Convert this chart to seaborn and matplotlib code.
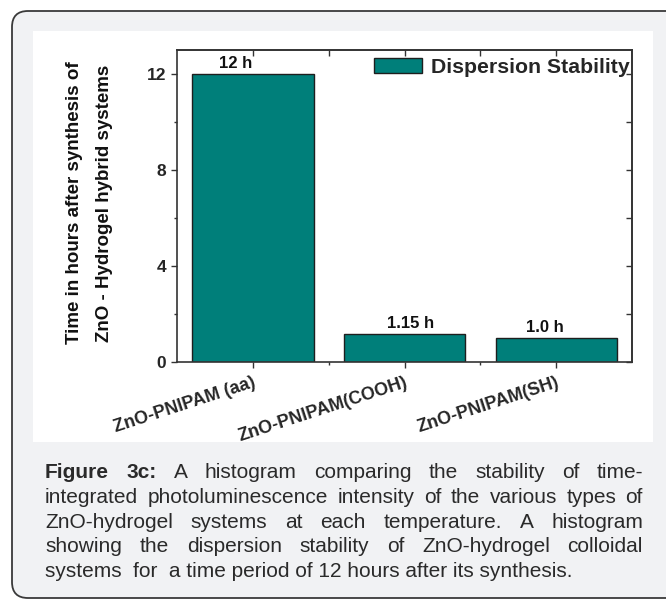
import matplotlib
matplotlib.use("Agg")
import matplotlib.pyplot as plt
from matplotlib.patches import FancyBboxPatch, Rectangle, Patch
import seaborn as sns
import pandas as pd

# ---------------- data ----------------
categories = ["ZnO-PNIPAM (aa)", "ZnO-PNIPAM(COOH)", "ZnO-PNIPAM(SH)"]
hours = [12.0, 1.15, 1.0]
bar_labels = ["12 h", "1.15 h", "1.0 h"]
y_ticks = [0, 4, 8, 12]
y_minor_ticks = [2, 6, 10]
legend_label = "Dispersion Stability"
ylabel_lines = ["Time in hours after synthesis of", "ZnO - Hydrogel hybrid systems"]
caption_lines = [
    "Figure 3c: A histogram comparing the stability of time-",
    "integrated photoluminescence intensity of the various types of",
    "ZnO-hydrogel systems at each temperature. A histogram",
    "showing the dispersion stability of ZnO-hydrogel colloidal",
    "systems  for  a time period of 12 hours after its synthesis.",
]
caption_bold_words = ["Figure", "3c:"]

# ---------------- style ----------------
teal = "#007f7a"
edge = "#1e1e1e"
frame = "#333333"
label_shift_px = [-17, 6, -11]

sns.set_theme(style="ticks")
plt.rcParams["font.family"] = ["Liberation Sans", "DejaVu Sans"]

W, H = 666, 601
fig = plt.figure(figsize=(W / 100, H / 100), dpi=100)
fig.patch.set_facecolor("white")

# background axes in pixel coordinates
bg = fig.add_axes([0, 0, 1, 1], zorder=0)
bg.set_xlim(0, W)
bg.set_ylim(H, 0)
bg.axis("off")
card = FancyBboxPatch((12, 11), 720, 587,
                      boxstyle="round,pad=0,rounding_size=16",
                      fc="#f1f2f4", ec="#3a3a3a", lw=1.3)
bg.add_patch(card)
bg.add_patch(Rectangle((33, 31), 620, 411, fc="white", ec="none"))

# ---------------- chart ----------------
ax = fig.add_axes([177 / W, 1 - 362 / H, 455 / W, 312 / H], zorder=2)
ax.set_facecolor("white")
df = pd.DataFrame({"system": categories, "hours": hours})
sns.barplot(data=df, x="system", y="hours", color=teal, saturation=1,
            edgecolor=edge, linewidth=1.0, width=0.8, ax=ax)

ax.set_xlim(-0.5, 2.5)
ax.set_ylim(0, 13)
ax.set_xlabel("")
ax.set_ylabel("")
ax.set_yticks(y_ticks)
ax.set_yticks(y_minor_ticks, minor=True)
ax.set_xticks(range(len(categories)))
ax.set_xticks([0.5, 1.5], minor=True)
ax.set_yticklabels([str(v) for v in y_ticks], fontsize=12.5, fontweight="bold")
ax.set_xticklabels(categories, fontsize=13, fontweight="bold",
                   rotation=18, ha="right", rotation_mode="anchor")
ax.tick_params(axis="both", which="major", direction="out", length=4,
               width=1.0, color=frame, pad=4, top=False, right=False)
ax.tick_params(axis="both", which="minor", direction="out", length=2.5,
               width=1.0, color=frame, top=False, right=False)
ax.tick_params(axis="x", which="major", pad=5)
for s in ax.spines.values():
    s.set_color(frame)
    s.set_linewidth(1.2)
    s.set_visible(True)

# mirrored inward ticks on top and right
sec_x = ax.secondary_xaxis("top")
sec_x.set_xticks([0, 0.5, 1, 1.5, 2], labels=[""] * 5)
sec_x.tick_params(direction="in", length=4, width=1.0, color=frame)
sec_x.spines["top"].set_color(frame)
sec_x.spines["top"].set_linewidth(1.2)
sec_y = ax.secondary_yaxis("right")
sec_y.set_yticks(sorted(y_ticks + y_minor_ticks), labels=[""] * 7)
sec_y.tick_params(direction="in", length=4, width=1.0, color=frame)
sec_y.spines["right"].set_color(frame)
sec_y.spines["right"].set_linewidth(1.2)

# value labels
for patch, lab, dx in zip(ax.patches, bar_labels, label_shift_px):
    ax.annotate(lab, (patch.get_x() + patch.get_width() / 2, patch.get_height()),
                xytext=(dx, 6), textcoords="offset pixels",
                ha="center", va="baseline", fontsize=12, fontweight="bold",
                color="#111111")

ax.legend(handles=[Patch(facecolor=teal, edgecolor=edge, linewidth=1.0,
                         label=legend_label)],
          loc="upper right", bbox_to_anchor=(0.995, 0.975), frameon=False,
          prop={"weight": "bold", "size": 15.3}, handlelength=2.3,
          handleheight=0.75, handletextpad=0.4, borderpad=0, borderaxespad=0)

# y-axis title (two lines)
for xc, line in zip([75, 105], ylabel_lines):
    bg.text(xc, 203, line, rotation=90, ha="center", va="center",
            fontsize=13.5, fontweight="bold", color="#111111")

# ---------------- caption ----------------
renderer = fig.canvas.get_renderer()
cap_size = 15
left, right = 45, 643
base0, step = 478, 24.8


def width_of(word, weight):
    t = bg.text(0, 0, word, fontsize=cap_size, fontweight=weight)
    w = t.get_window_extent(renderer).width
    t.remove()
    return w


for i, line in enumerate(caption_lines):
    y = base0 + i * step
    if i == len(caption_lines) - 1:
        bg.text(left, y, line, fontsize=cap_size, ha="left", va="baseline",
                color="#2a2a2a")
        continue
    words = line.split()
    weights = ["bold" if (i == 0 and w in caption_bold_words) else "normal"
               for w in words]
    widths = [width_of(w, wt) for w, wt in zip(words, weights)]
    gap = (right - left - sum(widths)) / (len(words) - 1)
    x = left
    for w, wt, ww in zip(words, weights, widths):
        bg.text(x, y, w, fontsize=cap_size, fontweight=wt, ha="left",
                va="baseline", color="#2a2a2a")
        x += ww + gap

fig.savefig("out.png", dpi=100)
